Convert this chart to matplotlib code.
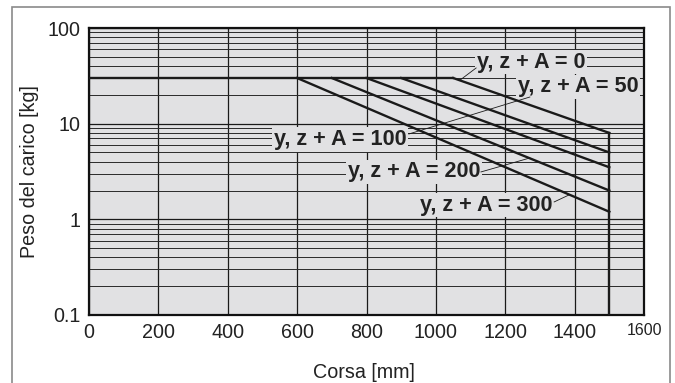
import numpy as np
import matplotlib.pyplot as plt
from matplotlib.patches import Rectangle
from matplotlib.ticker import FixedLocator, LogLocator, NullFormatter

plt.rcParams['font.family'] = ['Liberation Sans', 'DejaVu Sans']

# data
stroke_max = 1500          # mm
load_max = 30              # kg
offsets = [0, 50, 100, 200, 300]          # y, z + A [mm]
knee_stroke = [1050, 900, 800, 700, 600]  # where each curve leaves 30 kg
end_load = [8, 5, 3.5, 2, 1.2]            # load at 1500 mm

# label centres and leader lines (data coords)
label_xy = [(1274, 44), (1410, 24.2), (724, 6.8), (937, 3.13), (1144, 1.41)]
leaders = [
    [(1070, 28.6), (1116, 38.2)],
    None,
    [(922, 7.8), (1271, 19.0)],
    [(1130, 3.13), (1271, 4.38)],
    [(1341, 1.52), (1384, 1.80)],
]

x_ticks = [0, 200, 400, 600, 800, 1000, 1200, 1400, 1600]
y_ticks = [0.1, 1, 10, 100]
y_ticklabels = ['0.1', '1', '10', '100']

bg = '#e1e1e3'
dpi = 100
fig = plt.figure(figsize=(675/dpi, 383/dpi), dpi=dpi)
ax = fig.add_axes([89/675, 1-315/383, 555/675, 287/383])
ax.set_facecolor(bg)
ax.set_yscale('log')
ax.set_xlim(0, 1600)
ax.set_ylim(0.1, 100)

# grid
ax.xaxis.set_major_locator(FixedLocator(x_ticks))
ax.yaxis.set_major_locator(FixedLocator(y_ticks))
ax.yaxis.set_minor_locator(LogLocator(base=10, subs=np.arange(2, 10)))
ax.yaxis.set_minor_formatter(NullFormatter())
ax.set_yticklabels(y_ticklabels)
ax.grid(True, which='major', color='#1a1a1a', lw=0.9)
ax.grid(True, which='minor', axis='y', color='#2a2a2a', lw=0.7)
ax.set_axisbelow(True)
ax.tick_params(which='both', length=0, labelsize=14.2, colors='#222222')
ax.tick_params(axis='x', pad=6)
ax.tick_params(axis='y', pad=6)
xl = ax.get_xticklabels()
xl[-1].set_fontsize(11.5)
for s in ax.spines.values():
    s.set_color('#111111')
    s.set_linewidth(1.6)

# curves
lc = '#1a1a1a'
ax.plot([0, knee_stroke[0]], [load_max, load_max], color=lc, lw=1.7, zorder=4)
for k, e in zip(knee_stroke, end_load):
    ax.plot([k, stroke_max], [load_max, e], color=lc, lw=1.7, zorder=4)
ax.plot([stroke_max, stroke_max], [0.1, end_load[0]], color=lc, lw=1.7, zorder=4)

# labels
for a, (tx, ty), ld in zip(offsets, label_xy, leaders):
    ax.text(tx, ty, 'y, z + A = %d' % a, ha='center', va='center',
            fontsize=15.6, fontweight='bold', color='#222222', zorder=5,
            bbox=dict(facecolor=bg, edgecolor='none', pad=1.2))
    if ld is not None:
        ax.plot([ld[0][0], ld[1][0]], [ld[0][1], ld[1][1]], color=lc,
                lw=0.6, zorder=6)

ax.set_xlabel('Corsa [mm]', fontsize=14.2, color='#222222')
ax.set_ylabel('Peso del carico [kg]', fontsize=14.2, color='#222222')
ax.xaxis.set_label_coords(0.495, -0.168)
ax.yaxis.set_label_coords(-0.09, 0.5)

# outer frame
fig.patches.append(Rectangle((12/675, -0.1), 658/675, 1.1 - 7/383,
                             transform=fig.transFigure, fill=False,
                             edgecolor='#8a8a8a', lw=1.2))

plt.savefig('out.png', dpi=dpi)
plt.close()
